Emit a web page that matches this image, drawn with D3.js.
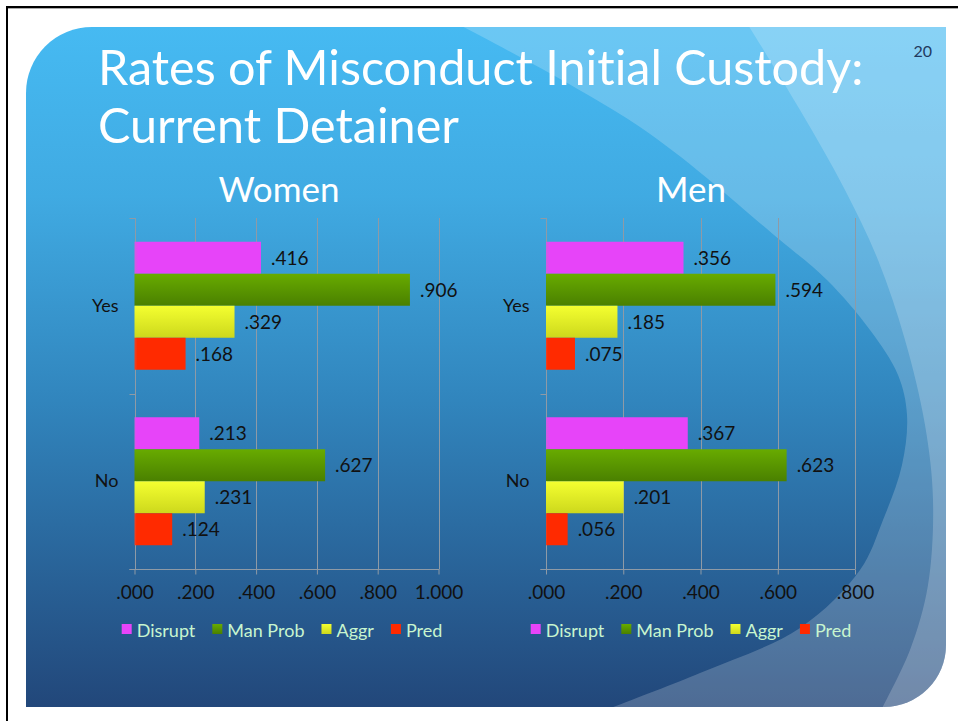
<!DOCTYPE html>
<html>
<head>
<meta charset="utf-8">
<script src="https://cdn.jsdelivr.net/npm/d3@7"></script>
<style>
  html, body { margin: 0; padding: 0; background: #fff; }
  svg { display: block; }
  text { font-variant-ligatures: none; font-feature-settings: "liga" 0; }
</style>
</head>
<body>
<svg id="slide" width="958" height="721"></svg>
<script>
// --- data ---
const categories = ['Yes', 'No'];
const seriesNames = ['Disrupt', 'Man Prob', 'Aggr', 'Pred'];
const womenYes = [0.416, 0.906, 0.329, 0.168];
const womenNo = [0.213, 0.627, 0.231, 0.124];
const menYes = [0.356, 0.594, 0.185, 0.075];
const menNo = [0.367, 0.623, 0.201, 0.056];
const womenTicks = [0, 0.2, 0.4, 0.6, 0.8, 1.0];
const menTicks = [0, 0.2, 0.4, 0.6, 0.8];

const FONT = "Lato, 'Open Sans', sans-serif";
const seriesFill = ['url(#gPink)', 'url(#gGreen)', 'url(#gYellow)', 'url(#gRed)'];

const svg = d3.select('#slide');
const defs = svg.append('defs');

function grad(id, stops, horizontal) {
    const g = defs.append('linearGradient').attr('id', id)
        .attr('x1', 0).attr('y1', 0)
        .attr('x2', horizontal ? 1 : 0).attr('y2', horizontal ? 0 : 1);
    stops.forEach(s => g.append('stop').attr('offset', s[0]).attr('stop-color', s[1]));
}
grad('gBg', [[0, '#46baf2'], [0.25, '#40aae2'], [0.55, '#3185bd'], [1, '#22477a']]);
grad('gGreen', [[0, '#68ab00'], [1, '#4a8000']]);
grad('gYellow', [[0, '#f4ff30'], [1, '#cdd81c']]);
// pink and red bars fade slightly at their left edge
grad('gPink', [[0, '#cf5ddf'], [0.03, '#e744f9'], [1, '#e744f9']], true);
grad('gRed', [[0, '#e8442a'], [0.06, '#ff2a00'], [1, '#ff2a00']], true);

// page frame lines
svg.append('rect').attr('x', 6).attr('y', 6).attr('width', 952).attr('height', 2).attr('fill', '#000');
svg.append('rect').attr('x', 8).attr('y', 8).attr('width', 950).attr('height', 1).attr('fill', '#aaa');
svg.append('rect').attr('x', 6).attr('y', 6).attr('width', 2).attr('height', 715).attr('fill', '#000');

// slide body: rounded top-left and bottom-right corners
const L = 26, T = 27, R = 946, B = 707, r1 = 66, r2 = 62;
const slidePath = `M${L + r1},${T} H${R} V${B - r2} A${r2},${r2} 0 0 1 ${R - r2},${B} H${L} V${T + r1} A${r1},${r1} 0 0 1 ${L + r1},${T} Z`;
defs.append('clipPath').attr('id', 'slideClip').append('path').attr('d', slidePath);
svg.append('path').attr('d', slidePath).attr('fill', 'url(#gBg)');

// decorative swooshes on the right
const curve = d3.line().curve(d3.curveCatmullRom);
const midEdge = [[450, 20], [640, 127], [780, 240], [827, 280], [870, 330], [898, 375], [907, 415],
    [902, 465], [883, 520], [860, 570], [800, 628], [700, 673], [600, 712]];
const lightEdge = [[745, 20], [800, 110], [845, 190], [878, 260], [905, 340], [925, 425],
    [933, 500], [928, 585], [910, 650], [880, 712]];
const deco = svg.append('g').attr('clip-path', 'url(#slideClip)');
[midEdge, lightEdge].forEach(edge => {
    deco.append('path')
        .attr('d', curve(edge) + ` L960,712 L960,20 Z`)
        .attr('fill', '#fff')
        .attr('fill-opacity', 0.2);
});

// slide title
svg.append('text').attr('x', 98).attr('y', 85)
    .attr('font-family', FONT).attr('font-size', 48.5).attr('fill', '#fff')
    .text('Rates of Misconduct Initial Custody:');
svg.append('text').attr('x', 98).attr('y', 143)
    .attr('font-family', FONT).attr('font-size', 48.5).attr('fill', '#fff')
    .text('Current Detainer');
svg.append('text').attr('x', 932).attr('y', 57).attr('text-anchor', 'end')
    .attr('font-family', FONT).attr('font-size', 16).attr('fill', '#1f3a60')
    .text('20');

const fmt = v => d3.format('.3f')(v).replace(/^0\./, '.');

function drawPanel(cfg) {
    const g = svg.append('g');
    const top = 218, bottom = 569;
    const x = d3.scaleLinear().domain(cfg.domain).range(cfg.xRange);
    const y = d3.scaleBand().domain(categories).range([top, bottom])
        .paddingInner(0.2707).paddingOuter(0.1353);
    const ySeries = d3.scaleBand().domain(seriesNames).range([0, y.bandwidth()]);
    const rows = { Yes: cfg.yes, No: cfg.no };

    g.append('text').attr('x', cfg.titleX).attr('y', 202).attr('text-anchor', 'middle')
        .attr('font-family', FONT).attr('font-size', 35).attr('fill', '#fff')
        .text(cfg.title);

    // vertical grid lines
    g.selectAll('line.grid').data(cfg.ticks).join('line')
        .attr('class', 'grid')
        .attr('x1', d => Math.round(x(d)) + 0.5).attr('x2', d => Math.round(x(d)) + 0.5)
        .attr('y1', top).attr('y2', bottom)
        .attr('stroke', '#8e9aa6').attr('stroke-width', 1);

    // category axis line and boundary ticks
    const x0 = Math.round(x(0)) + 0.5;
    const bounds = [top, top + y.step(), bottom];
    g.selectAll('line.ctick').data(bounds).join('line')
        .attr('class', 'ctick')
        .attr('x1', x0 - 6).attr('x2', x0)
        .attr('y1', d => Math.round(d) + 0.5).attr('y2', d => Math.round(d) + 0.5)
        .attr('stroke', '#8e9aa6');

    const yAxis = g.append('g').attr('transform', `translate(${x0},0)`)
        .call(d3.axisLeft(y).tickSize(0).tickPadding(17));
    yAxis.select('.domain').remove();
    yAxis.selectAll('text').attr('font-family', FONT).attr('font-size', 18).attr('fill', '#111');

    const xAxis = g.append('g').attr('transform', `translate(0,${bottom + 0.5})`)
        .call(d3.axisBottom(x).tickValues(cfg.ticks).tickFormat(fmt).tickSize(5).tickSizeOuter(0).tickPadding(11));
    xAxis.select('.domain').attr('stroke', '#8e9aa6')
        .attr('d', `M${x0 - 6},0H${Math.round(x(cfg.domain[1])) + 0.5}`);
    xAxis.selectAll('.tick line').attr('stroke', '#8e9aa6');
    xAxis.selectAll('text').attr('font-family', FONT).attr('font-size', 19).attr('fill', '#111');

    // bars
    categories.forEach(cat => {
        const vals = rows[cat];
        const bg = g.append('g').attr('transform', `translate(0,${y(cat)})`);
        bg.selectAll('rect').data(vals).join('rect')
            .attr('x', x(0))
            .attr('y', (d, i) => ySeries(seriesNames[i]))
            .attr('width', d => x(d) - x(0))
            .attr('height', ySeries.bandwidth())
            .attr('fill', (d, i) => seriesFill[i]);
        bg.selectAll('text').data(vals).join('text')
            .attr('x', d => x(d) + 10)
            .attr('y', (d, i) => ySeries(seriesNames[i]) + ySeries.bandwidth() / 2 + 7)
            .attr('font-family', FONT).attr('font-size', 19).attr('fill', '#111')
            .text(fmt);
    });

    // legend, centered under the panel
    const lg = g.append('g').attr('transform', 'translate(0,637)');
    const items = lg.selectAll('g').data(seriesNames).join('g');
    items.append('rect').attr('x', 0).attr('y', -13).attr('width', 10).attr('height', 10)
        .attr('fill', (d, i) => seriesFill[i]);
    items.append('text').attr('x', 15).attr('y', 0)
        .attr('font-family', FONT).attr('font-size', 18).attr('fill', '#c8f5cf')
        .text(d => d);
    const widths = [];
    items.each(function () {
        widths.push(15 + this.querySelector('text').getComputedTextLength());
    });
    const gap = 17;
    const total = d3.sum(widths) + gap * (widths.length - 1);
    let cx = cfg.legendX - total / 2;
    items.attr('transform', (d, i) => {
        const tx = cx;
        cx += widths[i] + gap;
        return `translate(${tx},0)`;
    });
}

drawPanel({ title: 'Women', titleX: 279, yes: womenYes, no: womenNo,
    domain: [0, 1], xRange: [134.5, 438.5], ticks: womenTicks, legendX: 282 });
drawPanel({ title: 'Men', titleX: 691, yes: menYes, no: menNo,
    domain: [0, 0.8], xRange: [546, 855], ticks: menTicks, legendX: 691 });
</script>
</body>
</html>
